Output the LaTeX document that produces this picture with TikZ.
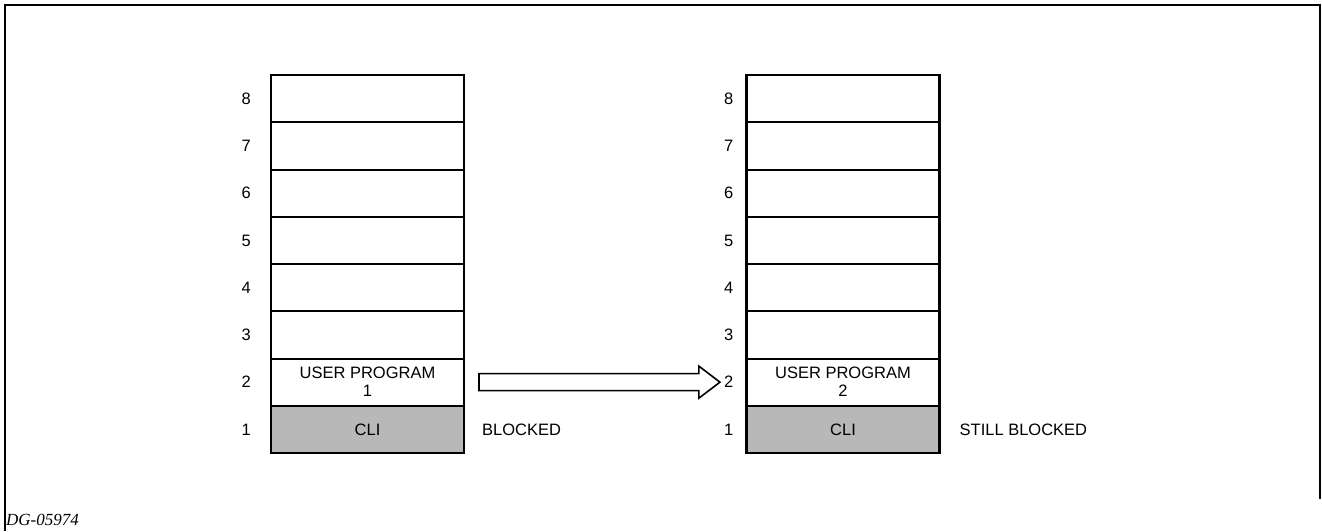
\documentclass[tikz,border=0pt]{standalone}
\usepackage{fontspec}
\setmainfont{Liberation Sans}
\newfontfamily\tagfont{Liberation Serif}
\usetikzlibrary{positioning, calc}

\begin{document}
\begin{tikzpicture}[x=1pt, y=-1pt,
        cell/.style={rectangle, draw=black, line width=2pt, minimum width=193pt, minimum height=47.25pt, inner sep=0pt, outer sep=0pt, align=center, font=\fontsize{16.5}{18}\selectfont},
        clicell/.style={cell, fill=black!28},
        rownum/.style={inner sep=0pt, font=\fontsize{16.5}{18}\selectfont},
        note/.style={inner sep=0pt, font=\fontsize{16.5}{18}\selectfont},
        hollow/.style={draw=black, line width=1.6pt, fill=white, line join=miter}
    ]
        \useasboundingbox (0,0) rectangle (1322,531);
        % frame, open at the bottom
        \draw[line width=1.2pt] (5,531) -- (5,5) -- (1320,5) -- (1320,499);
        \node[anchor=base west, inner sep=0pt, font=\tagfont\itshape\fontsize{17}{18}\selectfont] (tag) at (6,525) {DG-05974};

        % left stack
        \node[clicell] (L1) at (367.5, 429.4) {CLI};
        \node[cell, above=0pt of L1] (L2) {USER PROGRAM\\1};
        \foreach \i [count=\j from 2] in {3,...,8}
            \node[cell, above=0pt of L\j] (L\i) {};
        \draw[line width=2.6pt] (L8.north west) rectangle (L1.south east);

        % right stack
        \node[clicell] (R1) at (843, 429.4) {CLI};
        \node[cell, above=0pt of R1] (R2) {USER PROGRAM\\2};
        \foreach \i [count=\j from 2] in {3,...,8}
            \node[cell, above=0pt of R\j] (R\i) {};
        \draw[line width=2.6pt] (R8.north west) rectangle (R1.south east);

        % row numbers
        \foreach \i in {1,...,8} {
            \node[rownum, left=20pt of L\i] (nL\i) {\i};
            \node[rownum, left=13pt of R\i] (nR\i) {\i};
        }

        \node[note, right=18pt of L1] (blk1) {BLOCKED};
        \node[note, right=20pt of R1] (blk2) {STILL BLOCKED};

        % hollow arrow
        \coordinate (as) at ($(L2.east)+(15,0)$);
        \coordinate (ae) at ($(nR2.west)+(-4,0)$);
        \draw[hollow] ($(as)+(0,-8.5)$) -- ($(ae)+(-21,-8.5)$) -- ($(ae)+(-21,-16)$) -- (ae)
            -- ($(ae)+(-21,16)$) -- ($(ae)+(-21,8.5)$) -- ($(as)+(0,8.5)$) -- cycle;
    \end{tikzpicture}
\end{document}
